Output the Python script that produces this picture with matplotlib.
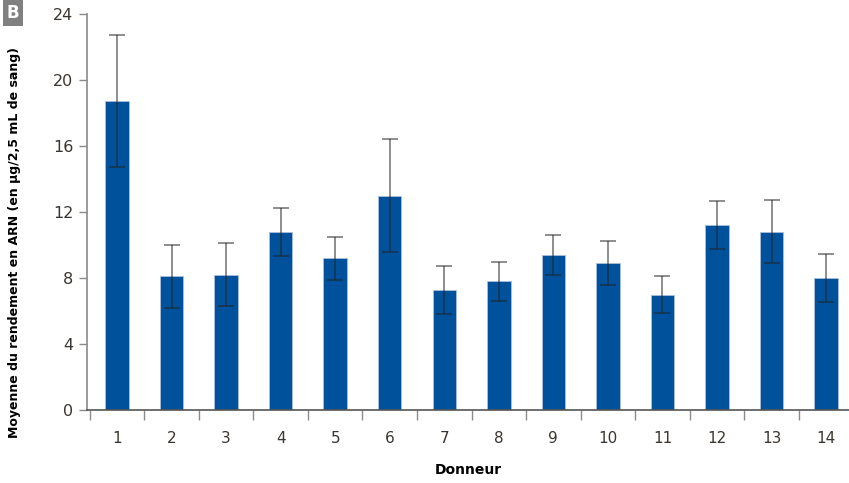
import numpy as np
import matplotlib.pyplot as plt

# Rendement moyen en ARN par donneur (µg / 2,5 mL de sang) et écart-type
donneurs = [str(i) for i in range(1, 15)]
moyenne = [18.7, 8.1, 8.2, 10.8, 9.2, 13.0, 7.3, 7.8, 9.4, 8.9, 7.0, 11.2, 10.8, 8.0]
ecart = [4.0, 1.9, 1.9, 1.45, 1.3, 3.4, 1.45, 1.2, 1.2, 1.35, 1.1, 1.45, 1.9, 1.45]
yticks = [0, 4, 8, 12, 16, 20, 24]

bleu = '#00519c'
gris = '#8a8a8a'
texte = '#3a3530'

fig = plt.figure(figsize=(8.49, 4.83), dpi=100)
ax = fig.add_axes([0.1025, 0.151, 0.8975, 0.820])

x = np.arange(1, len(donneurs) + 1)
ax.bar(x, moyenne, width=0.43, color=bleu, edgecolor='#a9bfdc', linewidth=0.6, zorder=2)
ax.errorbar(x, moyenne, yerr=ecart, fmt='none', ecolor='#222222', alpha=0.6,
            elinewidth=1.2, capsize=5.5, capthick=1.2, zorder=3)

ax.set_ylim(0, 24)
ax.set_xlim(0.45, 14.42)
ax.set_yticks(yticks)
ax.set_yticklabels([str(v) for v in yticks])

# graduations entre les barres, étiquettes centrées sous chaque barre
ax.set_xticks(np.arange(0.5, 14, 1.0))
ax.set_xticklabels([])
ax.set_xticks(x, minor=True)
ax.set_xticklabels(donneurs, minor=True)
ax.tick_params(axis='x', which='major', length=7, width=1, color=gris, direction='out')
ax.tick_params(axis='x', which='minor', length=0, pad=15, labelsize=11, labelcolor=texte)
ax.tick_params(axis='y', length=6, width=1, color=gris, pad=4, labelsize=11.5, labelcolor=texte)

for s in ['top', 'right']:
    ax.spines[s].set_visible(False)
ax.spines['left'].set_color(gris)
ax.spines['left'].set_linewidth(1.2)
ax.spines['bottom'].set_color('#555555')
ax.spines['bottom'].set_linewidth(1.2)

ax.set_xlabel('Donneur', fontsize=10, fontweight='bold', labelpad=12)
fig.text(0.0165, 0.497, 'Moyenne du rendement en ARN (en µg/2,5 mL de sang)',
         rotation=90, ha='center', va='center', fontsize=9, fontweight='bold')

# étiquette du panneau
fig.text(0.0148, 0.973, 'B', ha='center', va='center', color='white',
         fontsize=12, fontweight='bold',
         bbox=dict(boxstyle='square,pad=0.22', facecolor='#808080', edgecolor='none'))

plt.savefig('out.png', dpi=100)
